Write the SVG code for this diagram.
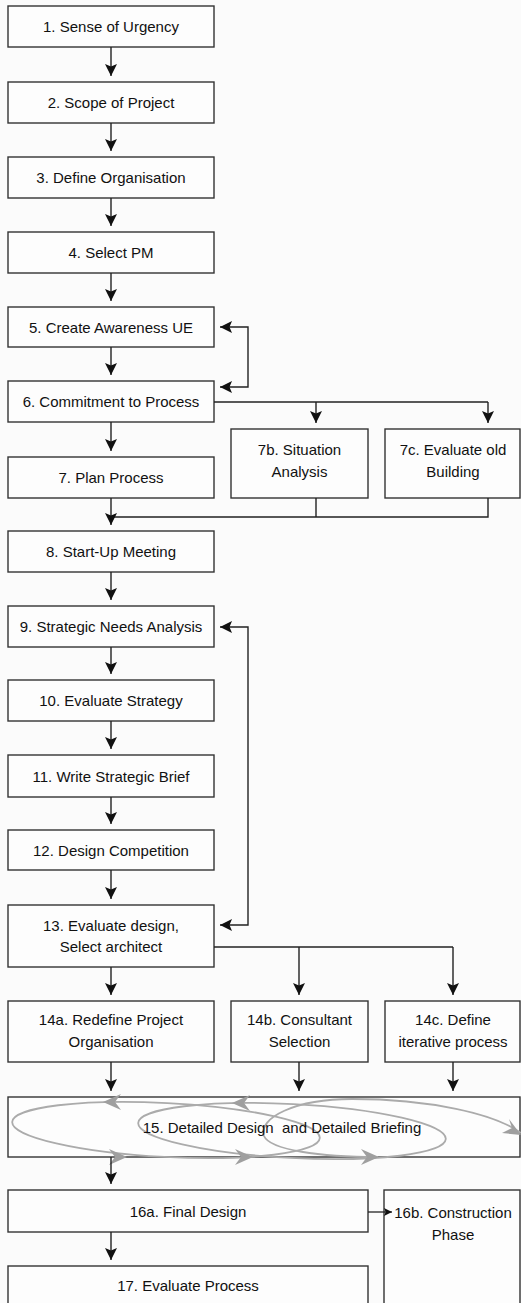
<svg xmlns="http://www.w3.org/2000/svg" width="521" height="1303" viewBox="0 0 521 1303">
<style>
.box{fill:#fdfdfd;stroke:#333;stroke-width:1.4}
.t{font-family:"Liberation Sans",Arial,sans-serif;font-size:15px;fill:#111;text-anchor:middle;dominant-baseline:central;white-space:pre}
.c{fill:none;stroke:#222;stroke-width:1.4}
.a{marker-end:url(#ah)}
.b{marker-start:url(#ahs);marker-end:url(#ah)}
.coil{fill:none;stroke:#ababab;stroke-width:1.8}
.ga{fill:#9f9f9f;stroke:none}
</style>
<defs>
<marker id="ah" viewBox="0 0 12 12" refX="12" refY="6" markerWidth="12" markerHeight="12" markerUnits="userSpaceOnUse" orient="auto">
<path d="M0,0 L12,6 L0,12 L2.5,6 Z" fill="#111"/>
</marker>
<marker id="ahs" viewBox="0 0 12 12" refX="0" refY="6" markerWidth="12" markerHeight="12" markerUnits="userSpaceOnUse" orient="auto">
<path d="M12,0 L0,6 L12,12 L9.5,6 Z" fill="#111"/>
</marker>
<marker id="ahsmall" viewBox="0 0 12 12" refX="12" refY="6" markerWidth="8" markerHeight="8" markerUnits="userSpaceOnUse" orient="auto">
<path d="M0,0 L12,6 L0,12 L2.5,6 Z" fill="#111"/>
</marker>
</defs>
<rect x="0" y="0" width="521" height="1303" fill="#fbfbfb"/>

<g id="n1"><rect class="box" x="8" y="6" width="206" height="41"/><text class="t" x="111" y="26.5">1. Sense of Urgency</text></g>
<g id="n2"><rect class="box" x="8" y="82" width="206" height="41"/><text class="t" x="111" y="102.5">2. Scope of Project</text></g>
<g id="n3"><rect class="box" x="8" y="157" width="206" height="41"/><text class="t" x="111" y="177.5">3. Define Organisation</text></g>
<g id="n4"><rect class="box" x="8" y="232" width="206" height="41"/><text class="t" x="111" y="252.5">4. Select PM</text></g>
<g id="n5"><rect class="box" x="8" y="307" width="206" height="40"/><text class="t" x="111" y="327">5. Create Awareness UE</text></g>
<g id="n6"><rect class="box" x="8" y="381" width="206" height="41"/><text class="t" x="111" y="401.5">6. Commitment to Process</text></g>
<g id="n7"><rect class="box" x="8" y="457" width="206" height="41"/><text class="t" x="111" y="477.5">7. Plan Process</text></g>
<g id="n7b"><rect class="box" x="231" y="429" width="137" height="69"/><text class="t" x="299.5" y="449">7b. Situation</text><text class="t" x="299.5" y="471">Analysis</text></g>
<g id="n7c"><rect class="box" x="385" y="429" width="135" height="69"/><text class="t" x="453" y="449">7c. Evaluate old</text><text class="t" x="453" y="471">Building</text></g>
<g id="n8"><rect class="box" x="8" y="531" width="206" height="41"/><text class="t" x="111" y="551.5">8. Start-Up Meeting</text></g>
<g id="n9"><rect class="box" x="8" y="606" width="206" height="41"/><text class="t" x="111" y="626.5">9. Strategic Needs Analysis</text></g>
<g id="n10"><rect class="box" x="8" y="680" width="206" height="41"/><text class="t" x="111" y="700.5">10. Evaluate Strategy</text></g>
<g id="n11"><rect class="box" x="8" y="755" width="206" height="42"/><text class="t" x="111" y="776">11. Write Strategic Brief</text></g>
<g id="n12"><rect class="box" x="8" y="830" width="206" height="40"/><text class="t" x="111" y="850">12. Design Competition</text></g>
<g id="n13"><rect class="box" x="8" y="905" width="206" height="62"/><text class="t" x="111" y="925">13. Evaluate design,</text><text class="t" x="111" y="946">Select architect</text></g>
<g id="n14a"><rect class="box" x="8" y="1001" width="206" height="61"/><text class="t" x="111" y="1019">14a. Redefine Project</text><text class="t" x="111" y="1041">Organisation</text></g>
<g id="n14b"><rect class="box" x="231" y="1001" width="137" height="61"/><text class="t" x="299.5" y="1019">14b. Consultant</text><text class="t" x="299.5" y="1041">Selection</text></g>
<g id="n14c"><rect class="box" x="385" y="1001" width="135" height="61"/><text class="t" x="453" y="1019">14c. Define</text><text class="t" x="453" y="1041">iterative process</text></g>

<g id="n15">
<rect class="box" x="8" y="1097" width="512" height="60"/>
<ellipse class="coil" cx="166" cy="1130" rx="154" ry="27" transform="rotate(3 166 1130)"/>
<ellipse class="coil" cx="292" cy="1131" rx="154" ry="27" transform="rotate(3 292 1131)"/>
<path class="coil" d="M521,1133 C495,1114 430,1099 352,1099 C295,1099 258,1118 264,1136 C270,1150 320,1157 378,1157"/>
<path class="ga" d="M103,1102 L121,1094 L115,1102 L121,1110 Z"/>
<path class="ga" d="M232,1103 L250,1095 L244,1103 L250,1111 Z"/>
<path class="ga" d="M127,1157 L109,1149 L115,1157 L109,1165 Z"/>
<path class="ga" d="M253,1157 L235,1149 L241,1157 L235,1165 Z"/>
<path class="ga" d="M379,1157 L361,1149 L367,1157 L361,1165 Z"/>
<path class="ga" d="M521,1135 L509,1119 L512,1128 L502,1133 Z"/>
<text class="t" x="282" y="1127">15. Detailed Design  and Detailed Briefing</text>
</g>

<g id="n16a"><rect class="box" x="8" y="1190" width="360" height="42"/><text class="t" x="188" y="1211">16a. Final Design</text></g>
<g id="n16b"><rect class="box" x="384" y="1190" width="136" height="120"/><text class="t" x="453" y="1212">16b. Construction</text><text class="t" x="453" y="1234">Phase</text></g>
<g id="n17"><rect class="box" x="8" y="1266" width="360" height="44"/><text class="t" x="188" y="1285">17. Evaluate Process</text></g>

<g id="connectors">
<path class="c a" d="M111,47 V76"/>
<path class="c a" d="M111,123 V151"/>
<path class="c a" d="M111,198 V226"/>
<path class="c a" d="M111,273 V301"/>
<path class="c a" d="M111,347 V375"/>
<path class="c b" d="M220,327 H248 V387 H220"/>
<path class="c a" d="M111,422 V451"/>
<path class="c" d="M214,402 H488"/>
<path class="c a" d="M316,402 V423"/>
<path class="c a" d="M488,402 V423"/>
<path class="c" d="M316,498 V517"/>
<path class="c" d="M488,498 V517 H111"/>
<path class="c a" d="M111,498 V525"/>
<path class="c a" d="M111,572 V600"/>
<path class="c a" d="M111,647 V674"/>
<path class="c a" d="M111,721 V749"/>
<path class="c a" d="M111,797 V824"/>
<path class="c a" d="M111,870 V899"/>
<path class="c b" d="M220,627 H248 V925 H220"/>
<path class="c a" d="M111,967 V995"/>
<path class="c" d="M214,947 H453"/>
<path class="c a" d="M299,947 V995"/>
<path class="c a" d="M453,947 V995"/>
<path class="c a" d="M111,1062 V1091"/>
<path class="c a" d="M299,1062 V1091"/>
<path class="c a" d="M453,1062 V1091"/>
<path class="c a" d="M111,1157 V1184"/>
<path d="M368,1212 H392" fill="none" stroke="#222" stroke-width="1.3" marker-end="url(#ahsmall)"/>
<path class="c a" d="M111,1232 V1260"/>
</g>
</svg>
